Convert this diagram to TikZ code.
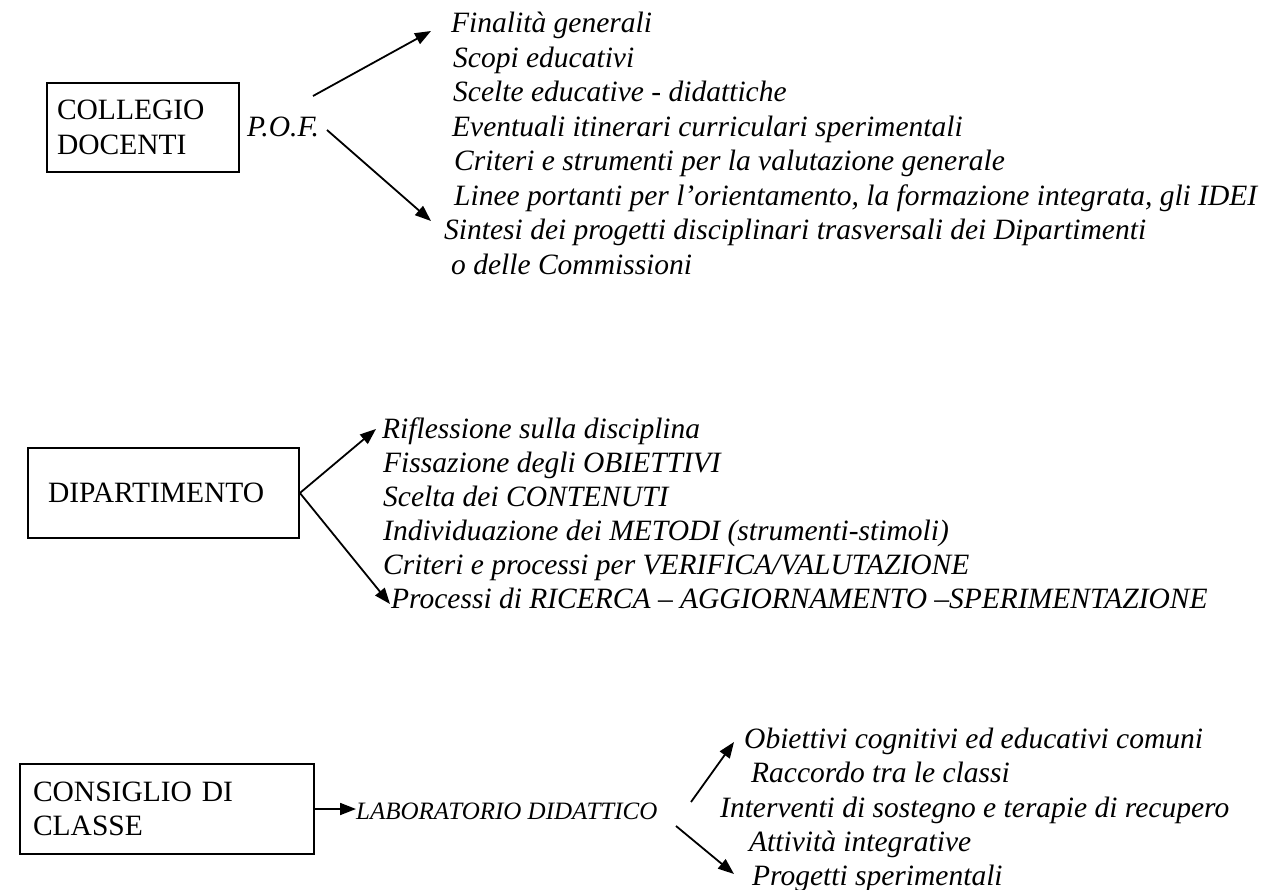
\documentclass[tikz,border=0pt]{standalone}
\usepackage{fontspec}
\setmainfont{Liberation Serif}
\usetikzlibrary{arrows.meta}

\begin{document}
\begin{tikzpicture}[
  x=1pt, y=-1pt,
  >={Triangle[length=16pt,width=12pt]},
  every node/.style={
    inner sep=0pt,
    font=\fontsize{29.5}{34.5}\selectfont
  },
  organ box/.style={
    draw,
    line width=1.8pt,
    align=left,
    inner ysep=0pt
  },
  item/.style={
    anchor=base west,
    font=\fontsize{29.5}{34.5}\selectfont\itshape
  },
  flow arrow/.style={
    ->,
    line width=1.8pt
  }
]
\useasboundingbox (0,0) rectangle (1281,890);

% collegio docenti
\node[organ box, inner xsep=10pt, text width=172pt, minimum height=89pt] (collegio) at (143,127.5) {COLLEGIO\\DOCENTI};
\node[item] (pof) at (247,137) {P.O.F.};

\node[item] (finalita) at (451,33) {Finalità generali};
\node[item] (scopi) at (453,67.5) {Scopi educativi};
\node[item] (scelte) at (453,102) {Scelte educative - didattiche};
\node[item] (itinerari) at (452,136.5) {Eventuali itinerari curriculari sperimentali};
\node[item] (criteri) at (454,171) {Criteri e strumenti per la valutazione generale};
\node[item] (linee) at (454,205.5) {Linee portanti per l’orientamento, la formazione integrata, gli IDEI};
\node[item] (sintesi) at (444,240) {Sintesi dei progetti disciplinari trasversali dei Dipartimenti};
\node[item] (commissioni) at (451,274.5) {o delle Commissioni};

\coordinate (pof up) at (313,96);
\coordinate (pof down) at (327,130);
\coordinate (finalita tip) at (431,31);
\coordinate (sintesi tip) at (431,221);

\draw[flow arrow] (pof up) -- (finalita tip);
\draw[flow arrow] (pof down) -- (sintesi tip);

% dipartimento
\node[organ box, inner xsep=20pt, text width=231pt, minimum height=90pt] (dipartimento) at (163.5,493) {DIPARTIMENTO\\};

\node[item] (riflessione) at (382,438) {Riflessione sulla disciplina};
\node[item] (obiettivi) at (383,472) {Fissazione degli OBIETTIVI};
\node[item] (contenuti) at (383,506) {Scelta dei CONTENUTI};
\node[item] (metodi) at (383,540) {Individuazione dei METODI (strumenti-stimoli)};
\node[item] (verifica) at (383,574) {Criteri e processi per VERIFICA/VALUTAZIONE};
\node[item] (ricerca) at (391,608) {Processi di RICERCA – AGGIORNAMENTO –SPERIMENTAZIONE};

\coordinate (riflessione tip) at (376,429);
\coordinate (ricerca tip) at (390,604);

\draw[flow arrow] (dipartimento.east) -- (riflessione tip);
\draw[flow arrow] (dipartimento.east) -- (ricerca tip);

% consiglio di classe
\node[organ box, inner xsep=13pt, text width=268pt, minimum height=90pt] (consiglio) at (167,809) {CONSIGLIO DI\\CLASSE};
\node[anchor=base west, font=\fontsize{25}{30}\selectfont\itshape] (laboratorio) at (356,819) {LABORATORIO DIDATTICO};

\draw[flow arrow] (consiglio.east) -- (consiglio.east -| laboratorio.west);

\node[item] (comuni) at (744,748) {Obiettivi cognitivi ed educativi comuni};
\node[item] (raccordo) at (751,782) {Raccordo tra le classi};
\node[item] (sostegno) at (720,817) {Interventi di sostegno e terapie di recupero};
\node[item] (integrative) at (749,851) {Attività integrative};
\node[item] (progetti) at (752,885) {Progetti sperimentali};

\coordinate (lab up) at (691,802);
\coordinate (lab down) at (676,826);
\coordinate (comuni tip) at (734,742);
\coordinate (progetti tip) at (734,874);

\draw[flow arrow] (lab up) -- (comuni tip);
\draw[flow arrow] (lab down) -- (progetti tip);

\end{tikzpicture}
\end{document}
